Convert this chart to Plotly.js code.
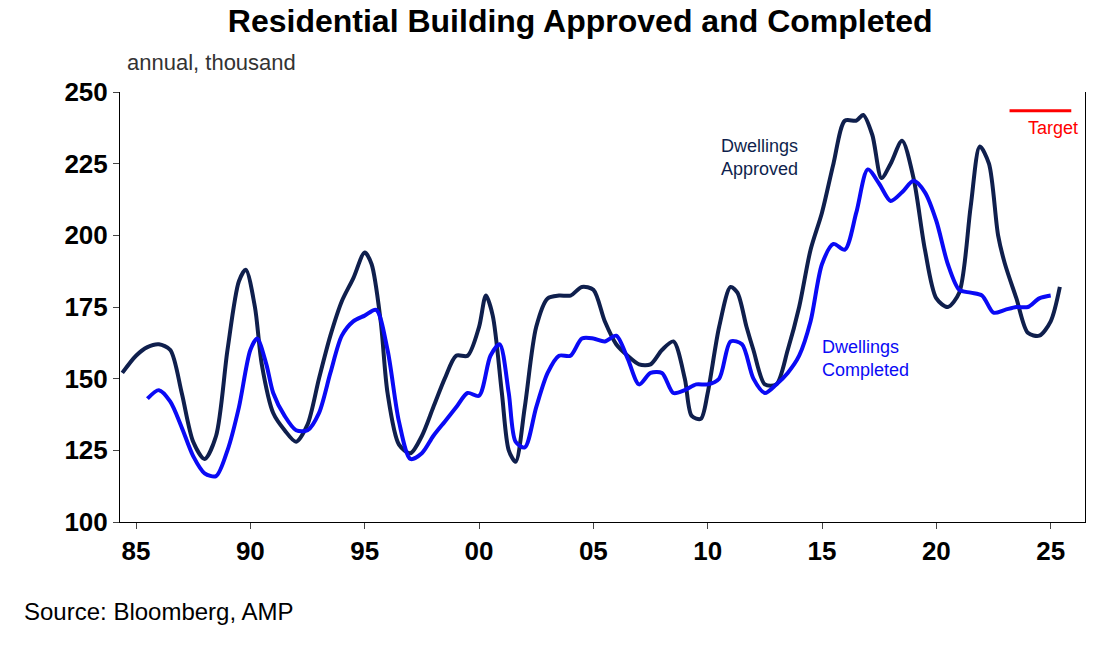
<!DOCTYPE html>
<html>
<head>
<meta charset="utf-8">
<script src="https://cdn.plot.ly/plotly-3.0.1.min.js"></script>
<style>html,body{margin:0;padding:0;background:#fff}#plot{width:1120px;height:655px}</style>
</head>
<body>
<div id="plot"></div>
<script>
// Dwellings approved, annual, thousand
const approved_x = [1984.4,1985,1985.5,1986,1986.5,1987,1987.5,1988,1988.5,1989,1989.5,1989.8,1990.2,1990.5,1991,1991.5,1992,1992.5,1993,1993.5,1994,1994.5,1995,1995.3,1995.7,1996,1996.5,1997,1997.5,1998,1998.5,1999,1999.5,2000,2000.3,2000.6,2001,2001.3,2001.6,2002,2002.5,2003,2003.5,2004,2004.5,2005,2005.5,2006,2006.5,2007,2007.5,2008,2008.5,2009,2009.3,2009.7,2010,2010.5,2011,2011.3,2011.7,2012,2012.5,2013,2013.5,2014,2014.5,2015,2015.5,2016,2016.5,2016.8,2017.2,2017.6,2018,2018.5,2019,2019.5,2020,2020.5,2021,2021.5,2021.9,2022.3,2022.7,2023,2023.5,2024,2024.5,2025,2025.4];
const approved_y = [152,158,161,162,160,145,128,122,130,160,184,188,175,155,138,132,128,134,150,165,177,185,194,190,170,145,127,124,130,140,150,158,158,168,179,172,145,125,121,140,168,178,179,179,182,181,170,162,158,155,155,160,163,150,137,136,145,168,182,180,168,160,148,148,160,175,195,208,225,240,240,242,235,220,225,233,220,195,178,175,180,210,231,225,200,190,178,166,165,170,182];
// Dwellings completed
const completed_x = [1985.5,1986,1986.5,1987,1987.5,1988,1988.5,1989,1989.5,1990,1990.3,1990.7,1991,1991.5,1992,1992.5,1993,1993.5,1994,1994.5,1995,1995.5,1996,1996.5,1997,1997.5,1998,1998.5,1999,1999.5,2000,2000.5,2000.9,2001.3,2001.6,2002,2002.5,2003,2003.5,2004,2004.5,2005,2005.5,2006,2006.5,2007,2007.5,2008,2008.5,2009,2009.5,2010,2010.5,2011,2011.5,2012,2012.5,2013,2013.5,2014,2014.5,2015,2015.5,2016,2016.5,2017,2017.5,2018,2018.5,2019,2019.5,2020,2020.5,2021,2021.5,2022,2022.5,2023,2023.5,2024,2024.5,2025];
const completed_y = [143,146,142,133,123,117,116,125,140,160,164,155,145,137,132,132,138,152,165,170,172,174,160,135,122,124,130,135,140,145,144,158,162,145,128,126,140,152,158,158,164,164,163,165,157,148,152,152,145,146,148,148,150,163,162,150,145,148,152,158,170,190,197,195,208,223,218,212,215,219,215,205,190,181,180,179,173,174,175,175,178,179];
const target_x = [2023.2, 2025.9];
const target_y = [243.5, 243.5];
const tick_vals = [1985,1990,1995,2000,2005,2010,2015,2020,2025];
const tick_text = ['85','90','95','00','05','10','15','20','25'];

const traces = [
  {x: approved_x, y: approved_y, mode: 'lines', line: {color: '#0f1f4d', width: 4, shape: 'spline', smoothing: 0.8}},
  {x: completed_x, y: completed_y, mode: 'lines', line: {color: '#0a0af5', width: 4, shape: 'spline', smoothing: 0.8}},
  {x: target_x, y: target_y, mode: 'lines', line: {color: '#ff0000', width: 3}}
];

const layout = {
  width: 1120, height: 655,
  margin: {l: 120, r: 35, t: 92, b: 133},
  showlegend: false,
  plot_bgcolor: '#fff', paper_bgcolor: '#fff',
  font: {family: 'Liberation Sans, Arial, sans-serif', color: '#000'},
  title: {text: '<b>Residential Building Approved and Completed</b>', x: 0.518, xanchor: 'center', y: 0.985, yanchor: 'top', font: {size: 32}},
  xaxis: {range: [1984.3, 2026.5], tickvals: tick_vals, ticktext: tick_text, showgrid: false, zeroline: false,
    showline: true, linecolor: '#000', linewidth: 1, ticks: 'outside', ticklen: 6, tickfont: {size: 26, weight: 'bold'}},
  yaxis: {range: [100, 250], tickvals: [100,125,150,175,200,225,250], showgrid: false, zeroline: false,
    showline: true, linecolor: '#000', linewidth: 1, mirror: true, ticks: 'outside', ticklen: 6, tickfont: {size: 26, weight: 'bold'}},
  annotations: [
    {xref: 'paper', yref: 'paper', x: 0.005, y: 1.035, xanchor: 'left', yanchor: 'bottom', text: 'annual, thousand', showarrow: false, font: {size: 22, color: '#333'}},
    {x: 2010.5, y: 227, xanchor: 'left', text: 'Dwellings<br>Approved', showarrow: false, align: 'left', font: {size: 18, color: '#0f1f4d'}},
    {x: 2014.9, y: 157, xanchor: 'left', text: 'Dwellings<br>Completed', showarrow: false, align: 'left', font: {size: 18, color: '#0a0af5'}},
    {x: 2025.1, y: 237.5, xanchor: 'center', text: 'Target', showarrow: false, font: {size: 18, color: '#ff0000'}},
    {xref: 'paper', yref: 'paper', x: -0.102, y: -0.209, xanchor: 'left', yanchor: 'middle', text: 'Source: Bloomberg, AMP', showarrow: false, font: {size: 24}}
  ]
};

Plotly.newPlot('plot', traces, layout, {displayModeBar: false, staticPlot: true});
</script>
</body>
</html>
